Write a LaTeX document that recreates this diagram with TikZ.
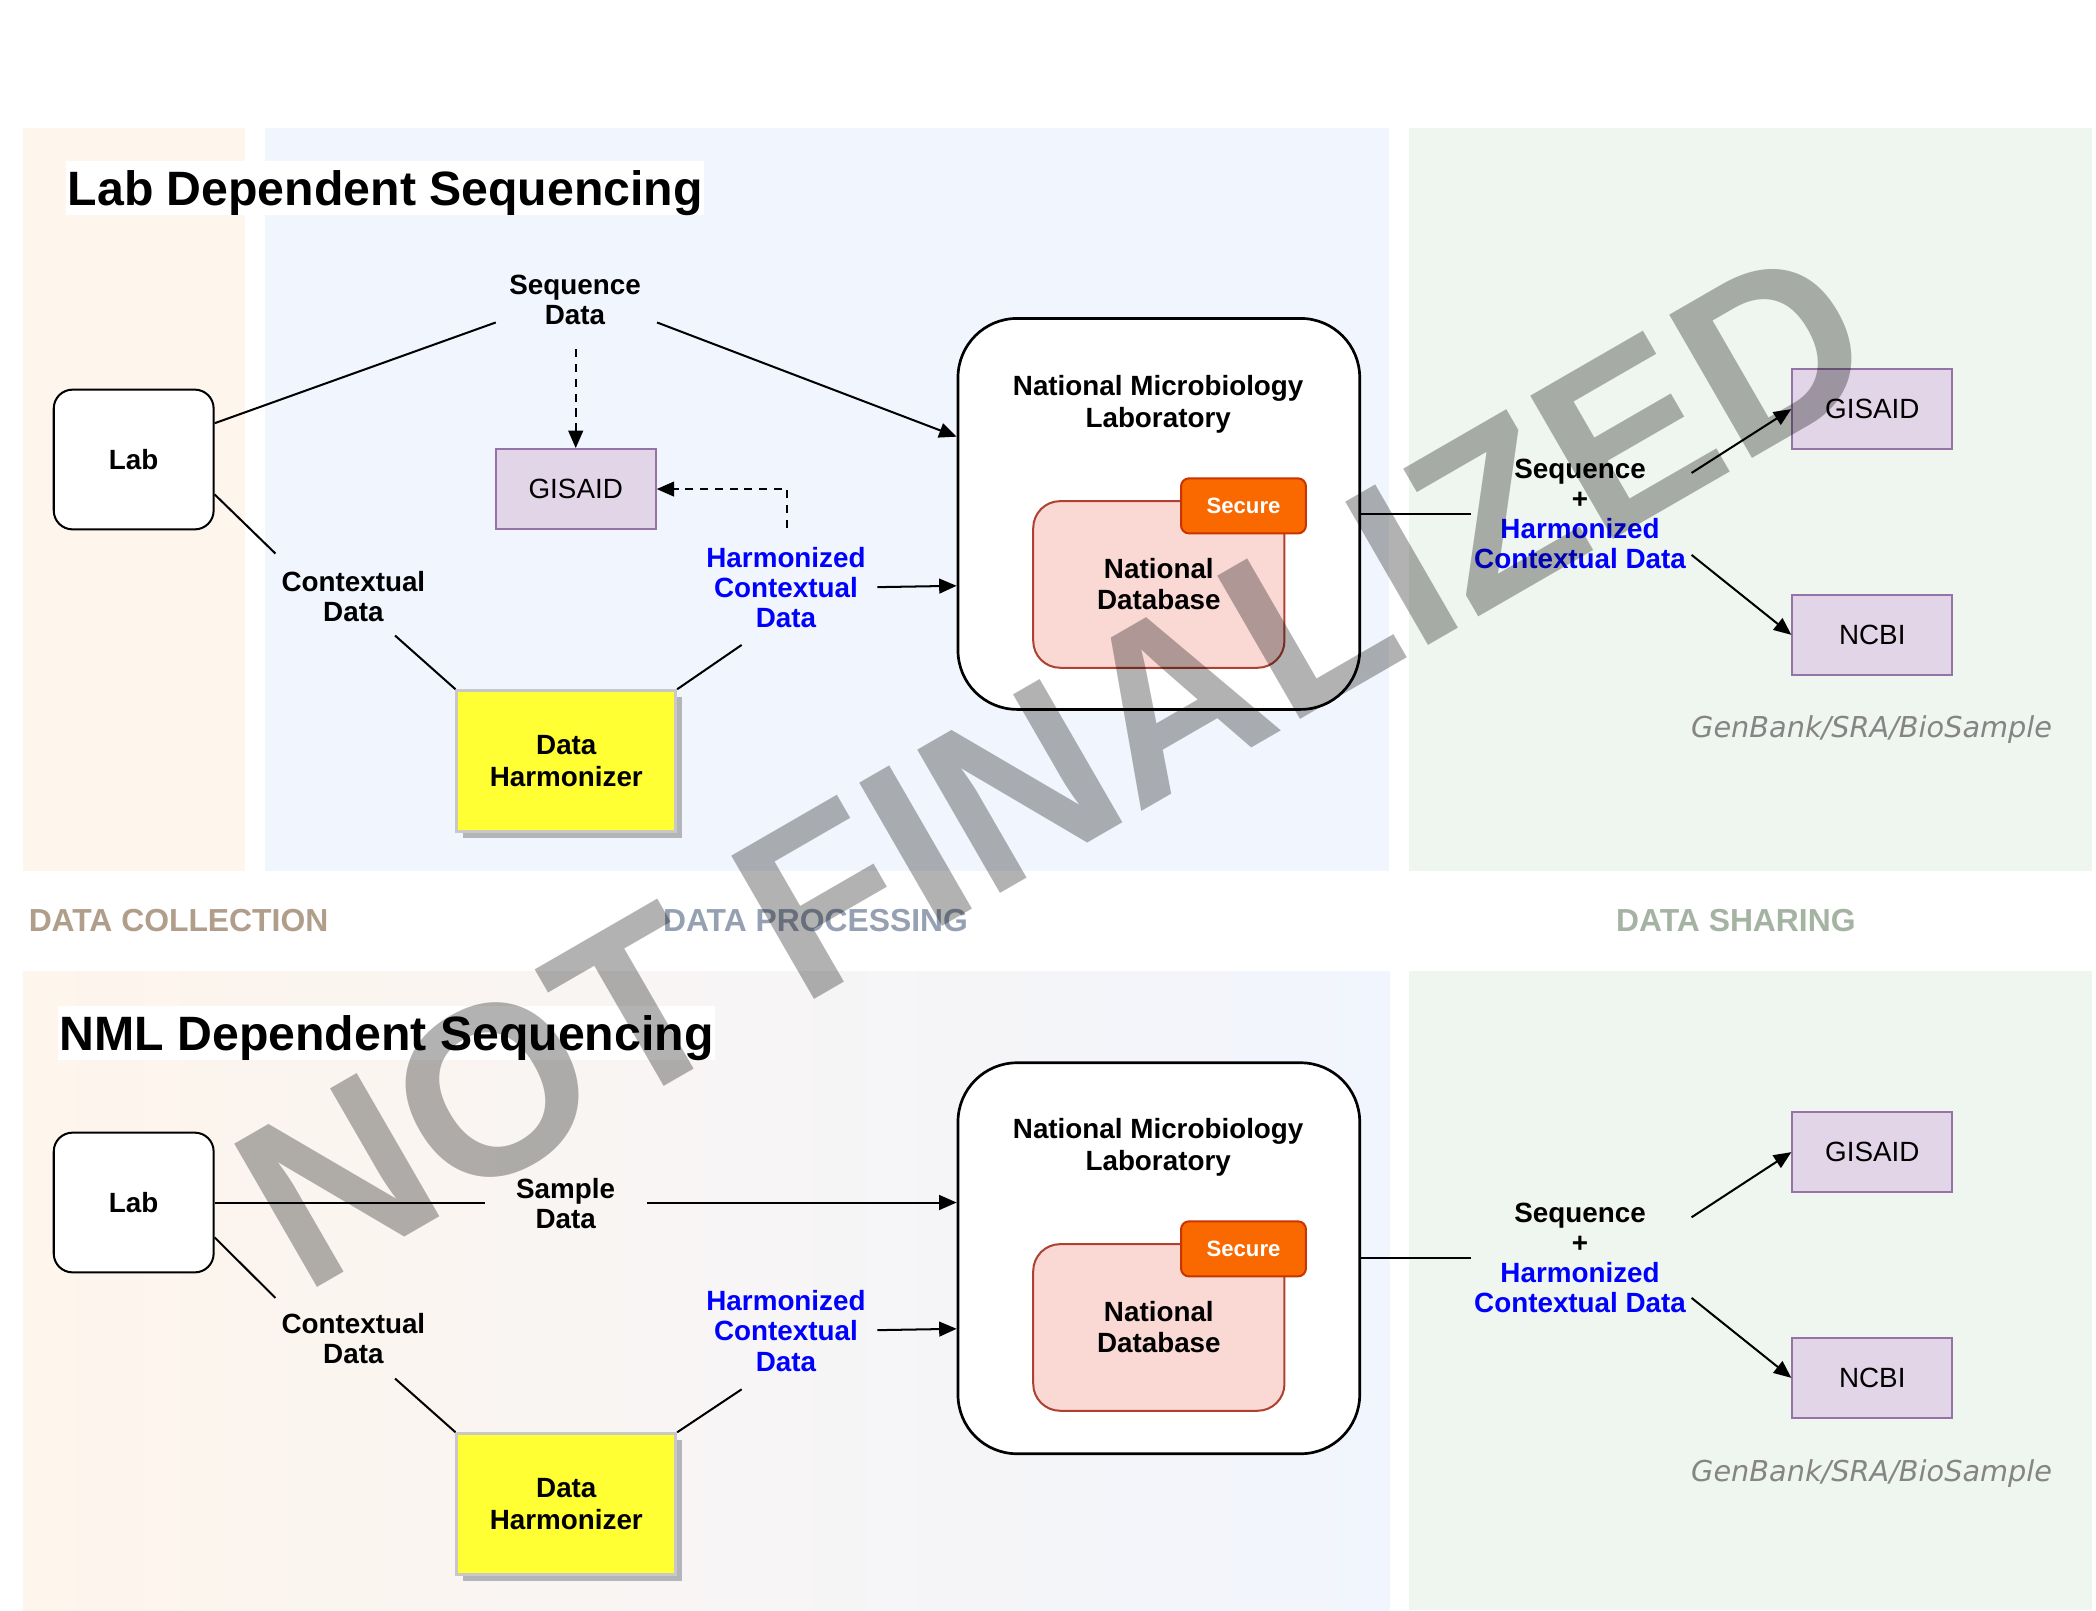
\documentclass[tikz,border=0pt]{standalone}
\usepackage{fontspec}
\setmainfont{Liberation Sans}
\newfontfamily\gbfont{DejaVu Sans}
\usetikzlibrary{arrows.meta,calc,shadows}
\definecolor{dcCol}{HTML}{FEF5EC}
\definecolor{dpCol}{HTML}{F1F5FD}
\definecolor{dsCol}{HTML}{EFF5EF}
\definecolor{midCol}{HTML}{F6F5F4}
\definecolor{hblue}{HTML}{0000FF}
\definecolor{purpFill}{HTML}{E1D5E7}
\definecolor{purpLine}{HTML}{9673A6}
\definecolor{dbFill}{HTML}{FAD9D5}
\definecolor{dbLine}{HTML}{AE4132}
\definecolor{secFill}{HTML}{FA6800}
\definecolor{secLine}{HTML}{C73500}
\definecolor{dhFill}{HTML}{FFFF33}
\definecolor{dhLine}{HTML}{C8C8C8}
\definecolor{dhShadow}{HTML}{B4B5B8}
\definecolor{dcText}{HTML}{B09E8A}
\definecolor{dpText}{HTML}{95A0B2}
\definecolor{dsText}{HTML}{A5B3A3}
\definecolor{gbText}{HTML}{858585}
\newcommand{\lblfont}{\fontsize{10.35pt}{11.2pt}\selectfont\bfseries}
\begin{document}
\begin{tikzpicture}[x=0.5pt,y=-0.5pt,
  conn/.style={draw=black, line width=0.75pt},
  arr/.style={-{Triangle[length=6.5pt,width=5.5pt]}},
  dsh/.style={dash pattern=on 3pt off 2.5pt},
  labbox/.style={draw=black, line width=0.75pt, fill=white, rounded corners=7pt, minimum width=59.5pt, minimum height=52pt, inner sep=0pt, font=\lblfont},
  pbox/.style={draw=purpLine, fill=purpFill, line width=0.75pt, minimum width=59.5pt, minimum height=29.75pt, inner sep=0pt, font=\fontsize{10.35pt}{12pt}\selectfont},
  nmlbox/.style={draw=black, line width=1pt, fill=white, rounded corners=22pt, minimum width=149.5pt, minimum height=145.5pt, inner sep=0pt},
  dbbox/.style={draw=dbLine, fill=dbFill, line width=0.75pt, rounded corners=10pt, minimum width=93.5pt, minimum height=62pt, inner sep=0pt, align=center, font=\fontsize{10.35pt}{11.5pt}\selectfont\bfseries},
  secbox/.style={draw=secLine, fill=secFill, line width=0.75pt, rounded corners=3pt, minimum width=46.5pt, minimum height=20.5pt, inner sep=0pt, text=white, font=\fontsize{8.25pt}{9pt}\selectfont\bfseries},
  dhbox/.style={draw=dhLine, fill=dhFill, line width=1pt, minimum width=81.5pt, minimum height=52.5pt, inner sep=0pt, align=center, font=\fontsize{10.35pt}{12pt}\selectfont\bfseries, drop shadow={shadow xshift=2.25pt, shadow yshift=-2.25pt, fill=dhShadow, opacity=1}},
  lbl/.style={align=center, inner sep=0pt, font=\lblfont},
  hlbl/.style={lbl, text=hblue, font=\fontsize{10.35pt}{11.25pt}\selectfont\bfseries},
  nmlt/.style={lbl, font=\fontsize{10.35pt}{12pt}\selectfont\bfseries},
  ttl/.style={anchor=west, fill=white, inner xsep=0.5pt, inner ysep=0pt, minimum height=20pt, text height=12.85pt, text depth=0pt, font=\fontsize{17.95pt}{20pt}\selectfont\bfseries},
  sect/.style={anchor=base, inner sep=0pt, font=\fontsize{11.85pt}{13pt}\selectfont\bfseries},
  gb/.style={anchor=base, inner sep=0pt, text=gbText, font=\fontsize{10.7pt}{12pt}\gbfont\itshape},
  wm/.style={rotate=30, inner sep=0pt, text=black, text opacity=0.3, font=\fontsize{89.5pt}{90pt}\selectfont\bfseries}
]
\useasboundingbox (0,0) rectangle (1560,1198.3);
\fill[white] (0,0) rectangle (1560,1198.3);
% panels
\fill[dcCol] (17,95) rectangle (182,648);
\fill[dpCol] (197,95) rectangle (1034,648);
\fill[dsCol] (1049,95) rectangle (1557,648);
\shade[left color=dcCol, middle color=midCol, right color=dpCol] (17,723) rectangle (1034,1198.3);
\fill[dsCol] (1049,723) rectangle (1557,1198.3);
% section labels
\node[sect, text=dcText, anchor=base west] (dcl) at (21,693) {DATA COLLECTION};
\node[sect, text=dpText] (dpl) at (607,693) {DATA PROCESSING};
\node[sect, text=dsText] (dsl) at (1292,693) {DATA SHARING};
% titles
\node[ttl] (t1) at (49,140) {Lab Dependent Sequencing};
\node[ttl] (t2) at (43,769) {NML Dependent Sequencing};

% ===== top: lab dependent =====
\node[labbox] (lab1) at (99.5,342) {Lab};
\node[lbl] (seq1) at (428,223) {Sequence\\Data};
\node[pbox] (gis1) at (428.5,364) {GISAID};
\node[lbl] (ctx1) at (263,444) {Contextual\\Data};
\node[hlbl] (hc1) at (585,437.5) {Harmonized\\Contextual\\Data};
\node[dhbox] (dh1) at (421.5,566.5) {Data\\Harmonizer};
\node[nmlbox] (nml1) at (862.5,382.5) {};
\node[nmlt] (nmlt1) at (862,301) {National Microbiology\\Laboratory};
\node[dbbox] (db1) at (862.5,435) {National\\Database};
\node[secbox] (sec1) at (925.5,376.5) {Secure};
\node[lbl] (shl1) at (1176,382.5) {Sequence\\+\\\textcolor{hblue}{Harmonized}\\\textcolor{hblue}{Contextual Data}};
\node[pbox] (gisR1) at (1393.5,304.5) {GISAID};
\node[pbox] (ncbi1) at (1393.5,472.5) {NCBI};
\node[gb] (gbk1) at (1393,549) {GenBank/SRA/BioSample};

\coordinate (seqL1) at (369,240);
\coordinate (seqR1) at (489,240);
\coordinate (seqD1) at (428.5,260);
\coordinate (ctxT1) at (205,412);
\coordinate (ctxB1) at (294,473);
\coordinate (hcB1) at (552,480);
\coordinate (hcT1) at (586,393);
\coordinate (hcR1) at (653,437);
\coordinate (shL1) at (1095,382.5);
\coordinate (shU1) at (1259,352);
\coordinate (shD1) at (1259,413);

\draw[conn] ($(lab1.east)+(0,-27)$) -- (seqL1);
\draw[conn,arr] (seqR1) -- ($(nml1.west)+(0,-57.5)$);
\draw[conn,dsh,arr] (seqD1) -- (gis1.north);
\draw[conn,dsh,arr] (hcT1) |- (gis1.east);
\draw[conn,arr] (hcR1) -- ($(nml1.west)+(0,53.5)$);
\draw[conn] ($(lab1.east)+(0,26)$) -- (ctxT1);
\draw[conn] (ctxB1) -- (dh1.north west);
\draw[conn] (dh1.north east) -- (hcB1);
\draw[conn] (nml1.east) -- (shL1);
\draw[conn,arr] (shU1) -- (gisR1.west);
\draw[conn,arr] (shD1) -- (ncbi1.west);

% ===== bottom: NML dependent =====
\node[labbox] (lab2) at (99.5,895) {Lab};
\node[lbl, minimum width=60pt] (smp2) at (421,896) {Sample\\Data};
\node[lbl] (ctx2) at (263,996) {Contextual\\Data};
\node[hlbl] (hc2) at (585,990.5) {Harmonized\\Contextual\\Data};
\node[dhbox] (dh2) at (421.5,1119.5) {Data\\Harmonizer};
\node[nmlbox] (nml2) at (862.5,936.5) {};
\node[nmlt] (nmlt2) at (862,854) {National Microbiology\\Laboratory};
\node[dbbox] (db2) at (862.5,988) {National\\Database};
\node[secbox] (sec2) at (925.5,929.5) {Secure};
\node[lbl] (shl2) at (1176,936) {Sequence\\+\\\textcolor{hblue}{Harmonized}\\\textcolor{hblue}{Contextual Data}};
\node[pbox] (gisR2) at (1393.5,857.5) {GISAID};
\node[pbox] (ncbi2) at (1393.5,1025.5) {NCBI};
\node[gb] (gbk2) at (1393,1102.3) {GenBank/SRA/BioSample};

\coordinate (ctxT2) at (205,966);
\coordinate (ctxB2) at (294,1026);
\coordinate (hcB2) at (552,1034);
\coordinate (hcR2) at (653,990);
\coordinate (shL2) at (1095,936.5);
\coordinate (shU2) at (1259,906);
\coordinate (shD2) at (1259,966);

\draw[conn] (lab2.east) -- (lab2.east -| smp2.west);
\draw[conn,arr] (smp2.east |- lab2.east) -- (nml2.west |- lab2.east);
\draw[conn,arr] (hcR2) -- ($(nml2.west)+(0,52.5)$);
\draw[conn] ($(lab2.east)+(0,26)$) -- (ctxT2);
\draw[conn] (ctxB2) -- (dh2.north west);
\draw[conn] (dh2.north east) -- (hcB2);
\draw[conn] (nml2.east) -- (shL2);
\draw[conn,arr] (shU2) -- (gisR2.west);
\draw[conn,arr] (shD2) -- (ncbi2.west);

% watermark
\node[wm] (wmk) at (785,570) {NOT FINALIZED};
\end{tikzpicture}
\end{document}
